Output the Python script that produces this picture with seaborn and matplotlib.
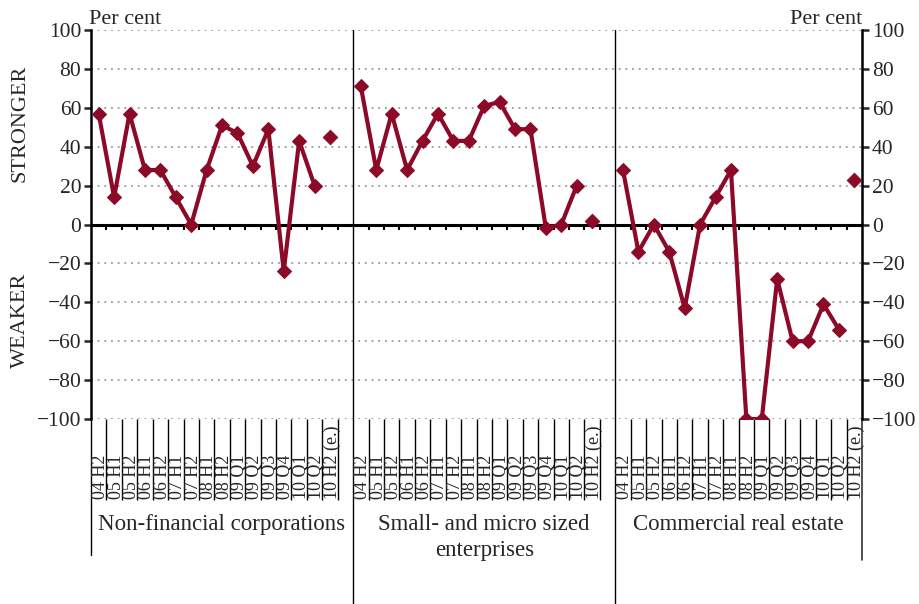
import matplotlib
matplotlib.use("Agg")
import matplotlib.pyplot as plt
import pandas as pd
import seaborn as sns

# Survey periods (last one is the estimate, shown as a stand-alone marker)
periods = ["04 H2", "05 H1", "05 H2", "06 H1", "06 H2", "07 H1", "07 H2", "08 H1",
           "08 H2", "09 Q1", "09 Q2", "09 Q3", "09 Q4", "10 Q1", "10 Q2", "10 H2 (e.)"]
panels = ["Non-financial corporations", "Small- and micro sized\nenterprises",
          "Commercial real estate"]

nonfin = [57, 14, 57, 28, 28, 14, 0, 28, 51, 47, 30, 49, -24, 43, 20, 45]
small = [71, 28, 57, 28, 43, 57, 43, 43, 61, 63, 49, 49, -2, 0, 20, 2]
cre = [28, -14, 0, -14, -43, 0, 14, 28, -100, -100, -28, -60, -60, -41, -54, 23]

RED = "#8c0a28"
SLOT = len(periods) + 1          # one blank slot between panels

sns.set_style("white")
plt.rcParams["font.family"] = ["Liberation Serif", "DejaVu Serif"]

rows = []
for p, series in enumerate([nonfin, small, cre]):
    for i, v in enumerate(series):
        rows.append({"panel": p, "pos": p * SLOT + i, "value": v,
                     "kind": "estimate" if i == len(periods) - 1 else "actual"})
df = pd.DataFrame(rows)

fig = plt.figure(figsize=(9.19, 6.04), dpi=100)
ax = fig.add_axes([0.099, 0.3063, 0.839, 0.644])

n_total = 3 * SLOT - 1
ax.set_xlim(-0.5, n_total - 0.5)
ax.set_ylim(-100, 100)

# dotted gridlines
for v in range(-100, 101, 20):
    if v != 0:
        ax.axhline(v, color="#999999", lw=1.3, ls=(0, (1, 2.7)), zorder=1)

# zero line with small boundary ticks
ax.axhline(0, color="black", lw=2.2, zorder=2)
bounds = [p * SLOT + k - 0.5 for p in range(3) for k in range(1, SLOT)
          if p * SLOT + k - 0.5 < n_total - 0.5]
ax.vlines(bounds, -3, 0, color="black", lw=1.5, zorder=2)

sns.lineplot(data=df[df.kind == "actual"], x="pos", y="value", units="panel",
             estimator=None, color=RED, lw=3, marker="D", markersize=7.5,
             markeredgecolor=RED, legend=False, ax=ax, zorder=4)
sns.scatterplot(data=df[df.kind == "estimate"], x="pos", y="value", marker="D",
                s=56, color=RED, edgecolor=RED, legend=False, ax=ax, zorder=4)

# axes styling
for s in ["top", "bottom"]:
    ax.spines[s].set_visible(False)
for s in ["left", "right"]:
    ax.spines[s].set_color("black")
    ax.spines[s].set_linewidth(1.8)
ax.set_yticks(range(-100, 101, 20))
ax.tick_params(axis="y", which="both", left=True, right=True, labelleft=True,
               labelright=True, direction="out", length=5, width=1.8,
               labelsize=15.5, pad=2)
ax.set_xticks([])
ax.set_xlabel("")
ax.set_ylabel("")

xt = ax.get_xaxis_transform()
# category separators below the axis
ax.vlines(bounds, -0.208, 0, transform=xt, color="black", lw=1.0, clip_on=False)
# panel dividers and outer edges
ax.plot([-0.5, -0.5], [0, -0.35], transform=xt, color="black", lw=1.0, clip_on=False)
ax.plot([n_total - 0.5] * 2, [0, -0.362], transform=xt, color="#333333", lw=1.2,
        clip_on=False)
for d in [SLOT - 0.5, 2 * SLOT - 0.5]:
    ax.plot([d, d], [1, -0.48], transform=xt, color="black", lw=1.0, clip_on=False)

# category labels, reading upward from a common baseline
for p in range(3):
    for i, lab in enumerate(periods):
        ax.text(p * SLOT + i, -0.205, lab, transform=xt, rotation=90,
                rotation_mode="anchor", ha="left", va="center_baseline",
                fontsize=13)

# panel titles
for p, title in enumerate(panels):
    left = p * SLOT - 0.5
    right = min(left + SLOT, n_total - 0.5)
    ax.text((left + right) / 2, -0.245, title, transform=xt, ha="center",
            va="top", fontsize=16.5, linespacing=1.3)

fig.text(89 / 919, 1 - 19 / 604, "Per cent", ha="left", va="center", fontsize=16)
fig.text(862 / 919, 1 - 19 / 604, "Per cent", ha="right", va="center", fontsize=16)
fig.text(20 / 919, 1 - 123 / 604, "STRONGER", rotation=90, ha="center",
         va="center", fontsize=16)
fig.text(20 / 919, 1 - 320 / 604, "WEAKER", rotation=90, ha="center",
         va="center", fontsize=16)

fig.savefig("out.png", dpi=100)
